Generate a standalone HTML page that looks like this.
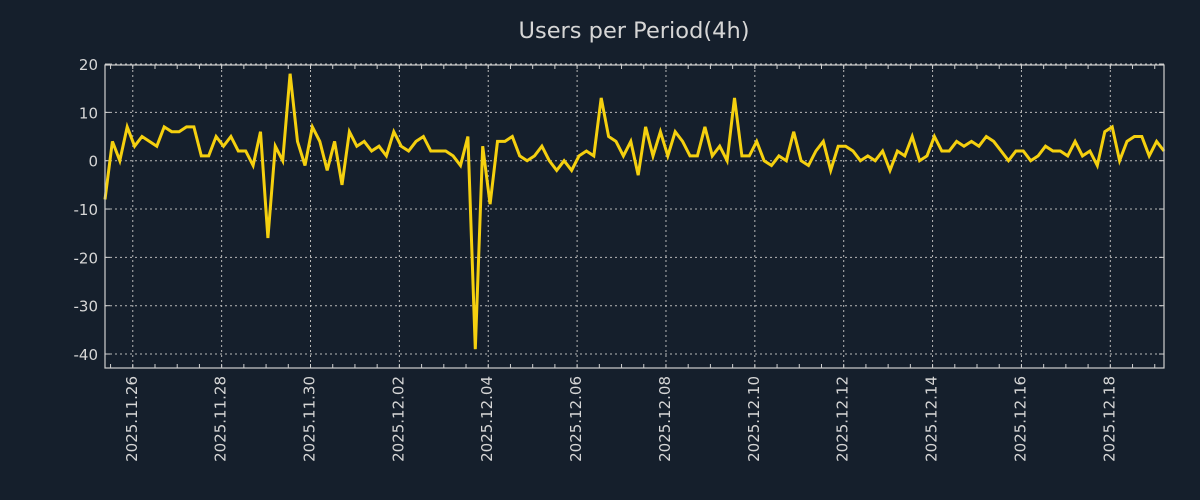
<!DOCTYPE html>
<html><head><meta charset="utf-8"><style>
body{margin:0;background:#151f2c;}
svg{display:block;font-family:"DejaVu Sans","Liberation Sans",sans-serif;}
</style></head><body>
<svg id="chart" width="1200" height="500" viewBox="0 0 1200 500">
<rect x="0" y="0" width="1200" height="500" fill="#151f2c"/>
<text x="634" y="38" text-anchor="middle" font-size="22.5" fill="#d6d6d6">Users per Period(4h)</text>
<g id="grid"></g>
<g id="axes"></g>
<g id="series"></g>
<rect x="105" y="65" width="1059" height="303" fill="none" stroke="#d0d0d0" stroke-width="1.2"/>
</svg>
<script>
const values = [-8,4,0,7,3,5,4,3,7,6,6,7,7,1,1,5,3,5,2,2,-1,6,-16,3,0,18,4,-1,7,4,-2,4,-5,6,3,4,2,3,1,6,3,2,4,5,2,2,2,1,-1,5,-39,3,-9,4,4,5,1,0,1,3,0,-2,0,-2,1,2,1,13,5,4,1,4,-3,7,1,6,1,6,4,1,1,7,1,3,0,13,1,1,4,0,-1,1,0,6,0,-1,2,4,-2,3,3,2,0,1,0,2,-2,2,1,5,0,1,5,2,2,4,3,4,3,5,4,2,0,2,2,0,1,3,2,2,1,4,1,2,-1,6,7,0,4,5,5,1,4,2];
const yTicks = [20,10,0,-10,-20,-30,-40];
const xTickLabels = ["2025.11.26","2025.11.28","2025.11.30","2025.12.02","2025.12.04","2025.12.06","2025.12.08","2025.12.10","2025.12.12","2025.12.14","2025.12.16","2025.12.18"];
const NS="http://www.w3.org/2000/svg";
const L=105,R=1164,T=65,B=368;
const HOUR=3600e3;
const tStart=Date.UTC(2025,10,25,9,0);
const tEnd=tStart+(values.length-1)*4*HOUR;
const xScale=t=>L+(t-tStart)/(tEnd-tStart)*(R-L);
const yScale=v=>160.7-(v)*4.833;
function mk(tag,attrs,parent){const e=document.createElementNS(NS,tag);for(const k in attrs)e.setAttribute(k,attrs[k]);parent.appendChild(e);return e;}
const grid=document.getElementById('grid'),axes=document.getElementById('axes'),series=document.getElementById('series');
yTicks.forEach(v=>{const y=yScale(v);
 const g=mk('line',{x1:L,x2:R,y1:y,y2:y,stroke:'#b8b8b8','stroke-width':1,'stroke-dasharray':'2,3'},grid);
 
 
 mk('line',{x1:L,x2:L+5,y1:y,y2:y,stroke:'#d0d0d0'},axes);
 mk('line',{x1:R-5,x2:R,y1:y,y2:y,stroke:'#d0d0d0'},axes);
 const t=mk('text',{x:L-7,y:y+6,'text-anchor':'end','font-size':15,fill:'#d6d6d6'},axes);
 t.textContent=v;
 
 
});
xTickLabels.forEach(s=>{const p=s.split('.');const t=Date.UTC(+p[0],+p[1]-1,+p[2]);const x=xScale(t);
 const g=mk('line',{x1:x,x2:x,y1:T,y2:B,stroke:'#b8b8b8','stroke-width':1,'stroke-dasharray':'2,3'},grid);
 
 
 const tx=mk('text',{x:0,y:0,'text-anchor':'end','font-size':15,fill:'#d6d6d6',transform:`translate(${x+4},${B+8}) rotate(-90)`},axes);
 tx.textContent=s;
 
 
});
for(let t=Date.UTC(2025,10,25,12);t<=tEnd;t+=12*HOUR){const x=xScale(t);if(x<L)continue;
 mk('line',{x1:x,x2:x,y1:T,y2:T+4,stroke:'#d0d0d0'},axes);
 mk('line',{x1:x,x2:x,y1:B-4,y2:B,stroke:'#d0d0d0'},axes);
}
const pts=values.map((v,i)=>xScale(tStart+i*4*HOUR).toFixed(1)+','+yScale(v).toFixed(1)).join(' ');
const line=mk('polyline',{points:pts,fill:'none',stroke:'#f5d00f','stroke-width':3,'stroke-linejoin':'miter'},series);


</script>
</body></html>
